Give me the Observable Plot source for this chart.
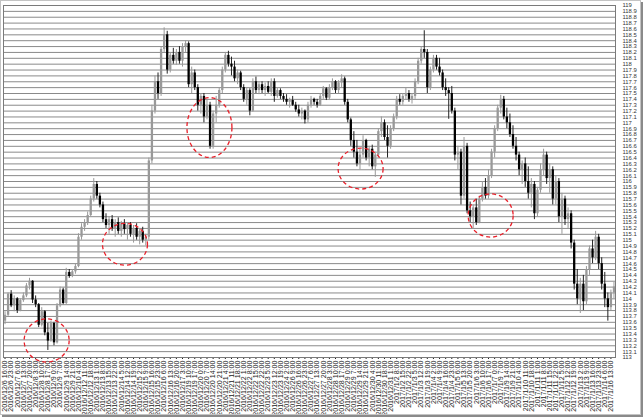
<!DOCTYPE html>
<html>
<head>
<meta charset="utf-8">
<script src="https://cdn.jsdelivr.net/npm/d3@7"></script>
<script src="https://cdn.jsdelivr.net/npm/@observablehq/plot@0.6"></script>
<style>
  html, body { margin: 0; padding: 0; background: #fff; }
  #wrap { position: relative; width: 644px; height: 420px; overflow: hidden; }
  #border { position: absolute; left: 0; top: 0; width: 639px; height: 413px;
            border: 1px solid #c4c4c4; box-shadow: 2px 2px 0 #8a8a8a; pointer-events: none; }
</style>
</head>
<body>
<div id="wrap"><div id="chart"></div><div id="border"></div></div>
<script>
// ---- candle data (USD/JPY, ~3.5h candles) ----
const opens = [
113.62,113.72,114.08,113.88,114.00,113.80,113.97,114.05,114.22,114.30,
113.98,113.90,113.55,113.78,113.42,113.28,113.58,113.25,113.88,114.15,
113.92,114.45,114.38,114.46,114.55,115.05,115.22,115.30,115.42,115.70,
115.95,115.75,115.60,115.35,115.25,115.35,115.20,115.30,115.15,115.28,
115.18,115.25,115.10,115.20,115.05,115.15,115.00,115.05,116.35,117.20,
117.70,117.50,118.25,118.50,117.90,118.15,118.05,118.20,118.05,118.30,
118.35,117.65,117.85,117.60,117.30,117.45,117.10,117.30,116.60,117.15,
117.30,117.55,117.90,118.15,118.00,117.95,117.75,117.85,117.60,117.40,
117.55,117.20,117.70,117.55,117.65,117.55,117.62,117.52,117.70,117.45,
117.55,117.45,117.40,117.35,117.38,117.30,117.22,117.15,117.20,117.05,
117.30,117.40,117.35,117.30,117.45,117.58,117.42,117.60,117.70,117.55,
117.68,117.75,117.35,117.05,116.70,116.50,116.30,116.45,116.70,116.40,
116.55,116.25,116.45,116.85,117.00,116.75,116.60,116.90,117.10,117.40,
117.35,117.45,117.50,117.40,117.45,117.70,118.05,118.25,118.20,117.60,
117.90,118.10,117.95,117.85,117.60,117.55,117.50,117.20,116.45,116.50,
115.75,116.60,115.50,115.40,115.55,115.30,115.70,115.90,115.75,116.10,
116.50,116.90,117.25,117.40,117.10,117.00,116.80,116.60,116.45,116.20,
116.30,116.00,115.80,115.95,115.45,115.85,116.20,116.45,116.05,116.20,
115.70,116.00,115.40,115.70,115.35,115.45,114.95,114.25,114.00,114.25,
113.95,114.50,114.85,114.70,115.05,114.60,114.25,114.00,113.85,114.10
];
const highs = [
113.78,114.10,114.14,114.05,114.02,114.00,114.10,114.26,114.35,114.31,
114.05,113.92,113.85,113.80,113.58,113.62,113.60,113.92,114.20,114.18,
114.52,114.50,114.50,114.60,115.11,115.28,115.35,115.48,115.75,116.05,
116.00,115.80,115.65,115.45,115.40,115.42,115.35,115.38,115.32,115.35,
115.30,115.30,115.25,115.28,115.20,115.22,115.10,116.40,117.30,117.80,
117.85,118.30,118.62,118.56,118.20,118.27,118.25,118.30,118.35,118.40,
118.38,117.95,117.90,117.65,117.50,117.50,117.40,117.35,117.20,117.45,
117.60,117.95,118.20,118.22,118.12,118.05,117.90,117.88,117.65,117.60,
117.58,117.75,117.78,117.70,117.70,117.68,117.70,117.75,117.75,117.60,
117.58,117.50,117.48,117.42,117.45,117.35,117.30,117.25,117.22,117.35,
117.45,117.42,117.40,117.50,117.62,117.60,117.65,117.75,117.72,117.72,
117.82,117.78,117.40,117.08,116.85,116.70,116.55,116.78,116.72,116.60,
116.62,116.50,116.90,117.10,117.05,116.95,116.95,117.15,117.45,117.48,
117.50,117.60,117.55,117.50,117.75,118.10,118.30,118.57,118.25,117.95,
118.15,118.15,118.10,117.90,117.75,117.60,117.62,117.25,116.60,116.55,
116.75,116.65,115.65,115.60,115.70,115.75,116.00,116.05,116.20,116.55,
116.95,117.30,117.47,117.45,117.25,117.15,116.95,116.75,116.50,116.35,
116.40,116.25,116.05,116.00,115.90,116.30,116.55,116.50,116.30,116.25,
116.10,116.05,115.80,115.75,115.55,115.50,115.00,114.50,114.35,114.40,
114.55,114.90,115.00,115.15,115.10,114.70,114.45,114.10,114.15,114.28
];
const lows = [
113.56,113.70,113.85,113.78,113.75,113.78,113.94,114.02,114.15,113.92,
113.85,113.51,113.52,113.37,113.12,113.26,113.20,113.23,113.85,113.90,
113.90,114.35,114.36,114.42,114.53,115.00,115.15,115.25,115.40,115.65,
115.70,115.55,115.30,115.20,115.10,115.15,115.05,115.10,115.05,115.10,
115.00,115.05,114.95,115.00,114.92,114.95,114.90,115.00,116.30,117.15,
117.40,117.45,118.20,117.83,117.85,118.00,117.98,118.00,117.95,118.20,
117.60,117.50,117.55,117.20,117.15,117.00,117.05,116.55,116.55,117.00,
117.25,117.50,117.85,117.95,117.80,117.70,117.65,117.55,117.35,117.30,
117.12,117.18,117.50,117.48,117.50,117.45,117.50,117.45,117.35,117.42,
117.40,117.35,117.30,117.25,117.28,117.18,117.10,117.05,116.98,117.00,
117.25,117.30,117.25,117.28,117.40,117.38,117.38,117.55,117.50,117.50,
117.60,117.30,117.00,116.60,116.40,116.25,116.20,116.40,116.35,116.25,
116.20,116.07,116.40,116.75,116.70,116.40,116.55,116.85,117.05,117.30,
117.30,117.38,117.35,117.32,117.40,117.65,118.00,118.10,117.50,117.55,
117.85,117.90,117.80,117.55,117.45,117.06,117.15,116.35,116.20,115.60,
115.70,115.45,115.30,115.20,115.25,115.28,115.65,115.70,115.70,116.05,
116.40,116.85,117.15,117.05,116.90,116.75,116.55,116.35,116.10,115.95,
115.90,115.70,115.55,115.35,115.40,115.80,116.10,115.95,115.80,115.60,
115.60,115.30,115.10,115.25,115.20,114.85,114.15,113.90,113.75,113.80,
113.90,114.40,114.60,114.65,114.50,114.15,113.85,113.62,113.80,114.00
];
const closes = [
113.72,114.08,113.88,114.00,113.80,113.97,114.05,114.22,114.30,113.98,
113.90,113.55,113.78,113.42,113.28,113.58,113.25,113.88,114.15,113.92,
114.45,114.38,114.46,114.55,115.05,115.22,115.30,115.42,115.70,115.95,
115.75,115.60,115.35,115.25,115.35,115.20,115.30,115.15,115.28,115.18,
115.25,115.10,115.20,115.05,115.15,115.00,115.05,116.35,117.20,117.70,
117.50,118.25,118.50,117.90,118.15,118.05,118.20,118.05,118.30,118.35,
117.65,117.85,117.60,117.30,117.45,117.10,117.30,116.60,117.15,117.30,
117.55,117.90,118.15,118.00,117.95,117.75,117.85,117.60,117.40,117.55,
117.20,117.70,117.55,117.65,117.55,117.62,117.52,117.70,117.45,117.55,
117.45,117.40,117.35,117.38,117.30,117.22,117.15,117.20,117.05,117.30,
117.40,117.35,117.30,117.45,117.58,117.42,117.60,117.70,117.55,117.68,
117.75,117.35,117.05,116.70,116.50,116.30,116.45,116.70,116.40,116.55,
116.25,116.45,116.85,117.00,116.75,116.60,116.90,117.10,117.40,117.35,
117.45,117.50,117.40,117.45,117.70,118.05,118.25,118.20,117.60,117.90,
118.10,117.95,117.85,117.60,117.55,117.50,117.20,116.45,116.50,115.75,
116.60,115.50,115.40,115.55,115.30,115.70,115.90,115.75,116.10,116.50,
116.90,117.25,117.40,117.10,117.00,116.80,116.60,116.45,116.20,116.30,
116.00,115.80,115.95,115.45,115.85,116.20,116.45,116.05,116.20,115.70,
116.00,115.40,115.70,115.35,115.45,114.95,114.25,114.00,114.25,113.95,
114.50,114.85,114.70,115.05,114.60,114.25,114.00,113.85,114.10,114.20
];

// ---- category (tick) labels: one per two candles ----
const xLabels = [
"2016/12/6 16:00","2016/12/6 23:00","2016/12/7 6:00","2016/12/7 13:00","2016/12/7 20:00","2016/12/8 3:00","2016/12/8 10:00","2016/12/8 17:00","2016/12/9 0:00","2016/12/9 7:00",
"2016/12/9 14:00","2016/12/9 21:00","2016/12/10 4:00","2016/12/12 11:00","2016/12/12 18:00","2016/12/13 1:00","2016/12/13 8:00","2016/12/13 15:00","2016/12/13 22:00","2016/12/14 5:00",
"2016/12/14 12:00","2016/12/14 19:00","2016/12/15 2:00","2016/12/15 9:00","2016/12/15 16:00","2016/12/15 23:00","2016/12/16 6:00","2016/12/16 13:00","2016/12/16 20:00","2016/12/17 3:00",
"2016/12/19 10:00","2016/12/19 17:00","2016/12/20 0:00","2016/12/20 7:00","2016/12/20 14:00","2016/12/20 21:00","2016/12/21 4:00","2016/12/21 11:00","2016/12/21 18:00","2016/12/22 1:00",
"2016/12/22 8:00","2016/12/22 15:00","2016/12/22 22:00","2016/12/23 5:00","2016/12/23 12:00","2016/12/23 19:00","2016/12/24 2:00","2016/12/26 9:00","2016/12/26 16:00","2016/12/26 23:00",
"2016/12/27 6:00","2016/12/27 13:00","2016/12/27 20:00","2016/12/28 3:00","2016/12/28 10:00","2016/12/28 17:00","2016/12/29 0:00","2016/12/29 7:00","2016/12/29 14:00","2016/12/29 21:00",
"2016/12/30 4:00","2016/12/30 11:00","2016/12/30 18:00","2016/12/31 1:00","2017/1/2 8:00","2017/1/2 15:00","2017/1/2 22:00","2017/1/3 5:00","2017/1/3 12:00","2017/1/3 19:00",
"2017/1/4 2:00","2017/1/4 9:00","2017/1/4 16:00","2017/1/4 23:00","2017/1/5 6:00","2017/1/5 13:00","2017/1/5 20:00","2017/1/6 3:00","2017/1/6 10:00","2017/1/6 17:00",
"2017/1/7 0:00","2017/1/9 7:00","2017/1/9 14:00","2017/1/9 21:00","2017/1/10 4:00","2017/1/10 11:00","2017/1/10 18:00","2017/1/11 1:00","2017/1/11 8:00","2017/1/11 15:00",
"2017/1/11 22:00","2017/1/12 5:00","2017/1/12 12:00","2017/1/12 19:00","2017/1/13 2:00","2017/1/13 9:00","2017/1/13 16:00","2017/1/13 23:00","2017/1/14 6:00","2017/1/16 13:00"
];

// ---- right-axis tick values (113.0 ... 119.0 by 0.1) ----
const yTicks = d3.range(1130, 1191).map(v => v / 10);

// ---- red dashed annotation ellipses (candle position, price, height/width ratio) ----
const circleIdx    = [13.6, 39.2, 66.8, 116.2, 158.7];
const circlePrice  = [113.29, 114.93, 116.92, 116.22, 115.42];
const circleAspect = [0.96, 0.93, 1.33, 0.91, 0.96];

const candles = opens.map((o, i) => ({i, o, h: highs[i], l: lows[i], c: closes[i], up: closes[i] >= o}));

function ellipseSymbol(aspect) {
  return {
    draw(ctx, size) {
      const r = Math.sqrt(size / Math.PI), rx = r, ry = r * aspect, k = 0.5523;
      ctx.moveTo(rx, 0);
      ctx.bezierCurveTo(rx, ry * k, rx * k, ry, 0, ry);
      ctx.bezierCurveTo(-rx * k, ry, -rx, ry * k, -rx, 0);
      ctx.bezierCurveTo(-rx, -ry * k, -rx * k, -ry, 0, -ry);
      ctx.bezierCurveTo(rx * k, -ry, rx, -ry * k, rx, 0);
      ctx.closePath();
    }
  };
}

const circleMarks = circleIdx.map((ci, k) =>
  Plot.dot([{x: ci, y: circlePrice[k]}], {
    x: "x", y: "y", r: 22.5, symbol: ellipseSymbol(circleAspect[k]),
    fill: "none", stroke: "#e8202a", strokeWidth: 1.3, strokeDasharray: "4,3"
  })
);

const fmt = v => String(+v.toFixed(1));

const chart = Plot.plot({
  width: 644,
  height: 420,
  marginLeft: 3,
  marginRight: 29,
  marginTop: 5,
  marginBottom: 63,
  style: {fontFamily: "'Liberation Sans', Arial, sans-serif", fontSize: "7.1px", color: "#222", background: "#fff"},
  x: {
    type: "linear", domain: [-0.5, 199.5],
    ticks: d3.range(0, 200, 2), tickFormat: i => xLabels[i / 2],
    tickRotate: -90, tickSize: 2, tickPadding: 1, label: null
  },
  y: {domain: [113, 119], axis: null},
  marks: [
    Plot.ruleY(yTicks.slice(1, -1), {stroke: "#8a8a8a", strokeWidth: 1}),
    Plot.frame({stroke: "#7a7a7a"}),
    Plot.ruleX(candles, {filter: d => d.up, x: "i", y1: "l", y2: "h", stroke: "#999", strokeWidth: 1}),
    Plot.ruleX(candles, {filter: d => d.up, x: "i", y1: "o", y2: "c", stroke: "#999", strokeWidth: 2.3}),
    Plot.ruleX(candles, {filter: d => !d.up, x: "i", y1: "l", y2: "h", stroke: "#222", strokeWidth: 1}),
    Plot.ruleX(candles, {filter: d => !d.up, x: "i", y1: "o", y2: "c", stroke: "#000", strokeWidth: 2.3}),
    Plot.text(yTicks, {y: d => d, text: fmt, frameAnchor: "right", dx: 7, textAnchor: "start",
                       fontSize: 5.9, fill: "#333"}),
    ...circleMarks
  ]
});
document.getElementById("chart").appendChild(chart);
</script>
</body>
</html>
